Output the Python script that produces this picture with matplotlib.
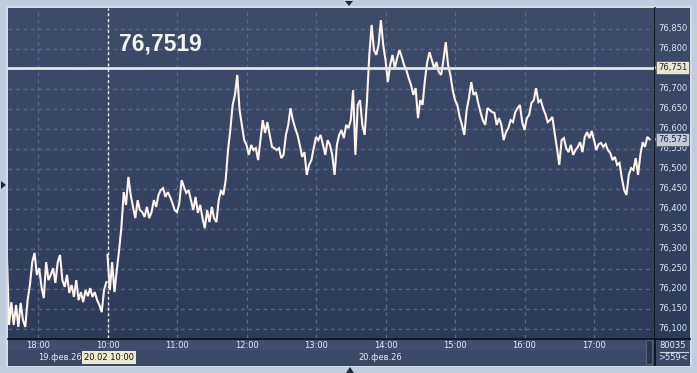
import numpy as np
import pandas as pd
import matplotlib
matplotlib.use('Agg')
import matplotlib.pyplot as plt
from matplotlib.patches import Rectangle, Polygon
from matplotlib.colors import LinearSegmentedColormap
import matplotlib.transforms as mtransforms

# ---------------- data ----------------
# 19 Feb 2026, 2-minute samples from 17:33
prices_19 = [76.296, 76.109, 76.166, 76.109, 76.159, 76.104, 76.164, 76.121, 76.104, 76.171,
             76.209, 76.266, 76.289, 76.234, 76.251, 76.204, 76.176, 76.266, 76.221, 76.234,
             76.251, 76.214, 76.266, 76.284, 76.221, 76.204, 76.234, 76.189, 76.209, 76.179,
             76.221, 76.171, 76.191, 76.166, 76.196, 76.181, 76.201, 76.179, 76.191, 76.171,
             76.159, 76.141, 76.196, 76.216]
# 20 Feb 2026, 2-minute samples from 10:00
prices_20 = [76.284, 76.196, 76.266, 76.191, 76.246, 76.296, 76.354, 76.441, 76.409, 76.479,
             76.434, 76.404, 76.376, 76.421, 76.396, 76.391, 76.379, 76.404, 76.376, 76.391,
             76.421, 76.404, 76.434, 76.446, 76.451, 76.429, 76.441, 76.429, 76.414, 76.396,
             76.391, 76.414, 76.471, 76.454, 76.439, 76.446, 76.421, 76.396, 76.429, 76.389,
             76.409, 76.376, 76.351, 76.396, 76.366, 76.404, 76.376, 76.366, 76.421, 76.446,
             76.434, 76.471, 76.546, 76.596, 76.659, 76.684, 76.734, 76.646, 76.609, 76.571,
             76.559, 76.534, 76.559, 76.546, 76.551, 76.521, 76.571, 76.621, 76.589, 76.616,
             76.584, 76.554, 76.551, 76.546, 76.551, 76.526, 76.534, 76.584, 76.609, 76.651,
             76.621, 76.601, 76.584, 76.559, 76.529, 76.541, 76.484, 76.509, 76.521, 76.551,
             76.579, 76.571, 76.584, 76.559, 76.534, 76.571, 76.559, 76.534, 76.484, 76.559,
             76.584, 76.596, 76.576, 76.609, 76.601, 76.621, 76.696, 76.534, 76.659, 76.671,
             76.609, 76.584, 76.671, 76.784, 76.859, 76.796, 76.784, 76.809, 76.871, 76.809,
             76.771, 76.716, 76.759, 76.784, 76.751, 76.776, 76.796, 76.779, 76.759, 76.746,
             76.726, 76.709, 76.684, 76.701, 76.626, 76.671, 76.659, 76.721, 76.766, 76.791,
             76.771, 76.751, 76.766, 76.741, 76.734, 76.771, 76.816, 76.759, 76.734, 76.696,
             76.671, 76.659, 76.629, 76.609, 76.584, 76.646, 76.676, 76.716, 76.684, 76.691,
             76.664, 76.641, 76.621, 76.609, 76.651, 76.646, 76.641, 76.639, 76.609, 76.626,
             76.609, 76.571, 76.591, 76.601, 76.621, 76.616, 76.641, 76.651, 76.659, 76.616,
             76.596, 76.626, 76.634, 76.664, 76.671, 76.701, 76.666, 76.671, 76.651, 76.636,
             76.616, 76.621, 76.629, 76.589, 76.551, 76.509, 76.571, 76.576, 76.551, 76.541,
             76.559, 76.534, 76.546, 76.554, 76.566, 76.541, 76.579, 76.591, 76.576, 76.594,
             76.571, 76.546, 76.561, 76.564, 76.554, 76.561, 76.546, 76.539, 76.521, 76.529,
             76.509, 76.514, 76.476, 76.446, 76.434, 76.484, 76.501, 76.496, 76.526, 76.484,
             76.534, 76.566, 76.554, 76.579, 76.573]

price_ticks = [76.10, 76.15, 76.20, 76.25, 76.30, 76.35, 76.40, 76.45, 76.50,
               76.55, 76.60, 76.65, 76.70, 76.75, 76.80, 76.85]
time_labels = ["18:00", "10:00", "11:00", "12:00", "13:00", "14:00", "15:00", "16:00", "17:00"]
cursor_price = 76.7519
cursor_axis_label = "76,751"
cursor_time = "10:00"
last_price = 76.573
counter_top = "80035"
counter_bottom = ">559<"

# ---------------- time -> compressed session axis (hours) ----------------
t19 = pd.date_range("2026-02-19 17:33", periods=len(prices_19), freq="2min")
t20 = pd.date_range("2026-02-20 10:00", periods=len(prices_20), freq="2min")
def sess_pos(ts, base_hour):
    return (ts.hour + ts.minute / 60.0) - base_hour
x19 = sess_pos(t19, 18.0)      # 18:00 on 19 Feb -> 0
x20 = sess_pos(t20, 9.0)       # 10:00 on 20 Feb -> 1
tick_pos = [0.0] + [h - 9.0 for h in range(10, 18)]

# ---------------- figure ----------------
W, H = 697, 373
fig = plt.figure(figsize=(W / 100, H / 100), dpi=100)
fig.patch.set_facecolor('#bfcddc')

bg = fig.add_axes([0, 0, 1, 1])
bg.set_xlim(0, W); bg.set_ylim(H, 0); bg.axis('off')
bg.add_patch(Rectangle((6, 6), 686, 361, facecolor='#d3dde8', edgecolor='none'))
bg.add_patch(Rectangle((8, 8), 682, 358, facecolor='#3b4965', edgecolor='none'))
bg.add_patch(Rectangle((8, 338), 646, 13, facecolor='#404e6b', edgecolor='none'))
bg.add_patch(Rectangle((8, 351), 646, 14, facecolor='#3a4864', edgecolor='none'))
bg.add_patch(Rectangle((646, 340), 6, 24, facecolor='#283450', edgecolor='#55627c', lw=0.8))
bg.add_patch(Rectangle((655, 338), 35, 27, facecolor='#3a4864', edgecolor='none'))
bg.plot([660, 688], [351.5, 351.5], color='#c8d2e0', lw=0.8)
bg.text(673, 345, counter_top, color='#e6ecf4', fontsize=6, ha='center', va='center',
        family='DejaVu Sans')
bg.text(673, 358, counter_bottom, color='#e6ecf4', fontsize=6, ha='center', va='center',
        family='DejaVu Sans')
bg.plot([8, 690], [338.5, 338.5], color='#0a0e16', lw=1.2)
bg.plot([654.5, 654.5], [8, 365], color='#0a0e16', lw=1.2)
bg.add_patch(Polygon([[345, 1], [353, 1], [349, 6]], closed=True, facecolor='#1e2838', edgecolor='none'))
bg.add_patch(Polygon([[346, 373], [354, 373], [350, 367]], closed=True, facecolor='#1e2838', edgecolor='none'))
bg.add_patch(Polygon([[1, 181], [1, 189], [6, 185]], closed=True, facecolor='#1e2838', edgecolor='none'))

grad = np.linspace(0, 1, 256).reshape(-1, 1)
cmap_bg = LinearSegmentedColormap.from_list('bgc', ['#3f4c69', '#2d3b59'])

pp = fig.add_axes([655 / W, 1 - 338 / H, 35 / W, 330 / H])
pp.axis('off')
pp.imshow(grad, aspect='auto', cmap=cmap_bg, extent=[0, 1, 0, 1], origin='upper')
pp.set_xlim(0, 1); pp.set_ylim(0, 1)

ax = fig.add_axes([8 / W, 1 - 338 / H, 646 / W, 330 / H])
ax.imshow(grad, aspect='auto', cmap=cmap_bg, extent=[0, 1, 0, 1], origin='upper',
          transform=ax.transAxes, zorder=0)
x_left = -0.432
x_right = x_left + 646 / 69.5
ax.set_xlim(x_left, x_right)
ax.set_ylim(76.0763, 76.9013)
for s in ax.spines.values():
    s.set_visible(False)
ax.set_xticks([]); ax.set_yticks([])

grid_kw = dict(color='#5b6a8a', lw=0.9, dashes=(3, 3), zorder=1)
for p in price_ticks:
    ax.axhline(p, **grid_kw)
for tp in tick_pos:
    ax.axvline(tp, **grid_kw)

line_kw = dict(color='#fff3ec', lw=1.5, zorder=3, solid_joinstyle='miter')
ax.plot(x19, prices_19, **line_kw)
ax.plot(x20, prices_20, **line_kw)

# crosshair
cur_x = tick_pos[time_labels.index(cursor_time)]
ax.axhline(cursor_price, color='#e4e4e4', lw=2.0, zorder=4)
ax.axvline(cur_x, color='#f0f0f0', lw=1.0, dashes=(2, 2), zorder=4)
ax.text(1.165, 76.8125, f"{cursor_price:.4f}".replace('.', ','), color='#f4f4f4',
        fontsize=16.5, fontweight='bold', family='Liberation Sans', ha='left', va='center',
        zorder=5)

trans_p = mtransforms.blended_transform_factory(ax.transAxes, ax.transData)
xl = (658 - 8) / 646
for p in price_ticks:
    ax.text(xl, p, f"{p:.3f}".replace('.', ','), transform=trans_p, color='#dce6f4',
            fontsize=6, family='DejaVu Sans', ha='left', va='center', clip_on=False)

def price_box(y0, lbl, face, txtc):
    ax.text(xl, y0, lbl, transform=trans_p, color=txtc, fontsize=6, family='DejaVu Sans',
            ha='left', va='center', clip_on=False, zorder=8,
            bbox=dict(boxstyle='square,pad=0.25', facecolor=face, edgecolor='#56606e', lw=0.6))
    dy = 0.016
    ax.add_patch(Polygon([[(655 - 8) / 646, y0], [(658 - 8) / 646, y0 + dy],
                          [(658 - 8) / 646, y0 - dy]], closed=True, transform=trans_p,
                         facecolor=face, edgecolor='none', clip_on=False, zorder=7))

price_box(cursor_price, cursor_axis_label, '#e6e6cf', '#1c2638')
price_box(last_price, f"{last_price:.3f}".replace('.', ','), '#c3cad6', '#1c2a44')

trans_t = mtransforms.blended_transform_factory(ax.transData, ax.transAxes)
ylab = (338 - 346) / 330
for tp, tl in zip(tick_pos, time_labels):
    ax.text(tp, ylab, tl, transform=trans_t, color='#e4ebf5', fontsize=6,
            family='DejaVu Sans', ha='center', va='center', clip_on=False)
ydate = (338 - 357.5) / 330
ax.text(x_left + (38 - 8) / 69.5, ydate, "19.фев.26", transform=trans_t, color='#e4ebf5',
        fontsize=6, family='DejaVu Sans', ha='left', va='center', clip_on=False)
ax.text(tick_pos[time_labels.index("14:00")] - 0.08, ydate, "20.фев.26", transform=trans_t,
        color='#e4ebf5', fontsize=6, family='DejaVu Sans', ha='center', va='center',
        clip_on=False)
ax.text(cur_x + 0.02, ydate, "20.02 10:00", transform=trans_t, color='#101010',
        fontsize=6, family='DejaVu Sans', ha='center', va='center', clip_on=False,
        bbox=dict(boxstyle='square,pad=0.2', facecolor='#ecead0', edgecolor='none'))

fig.savefig('out.png', dpi=100, facecolor=fig.get_facecolor())
